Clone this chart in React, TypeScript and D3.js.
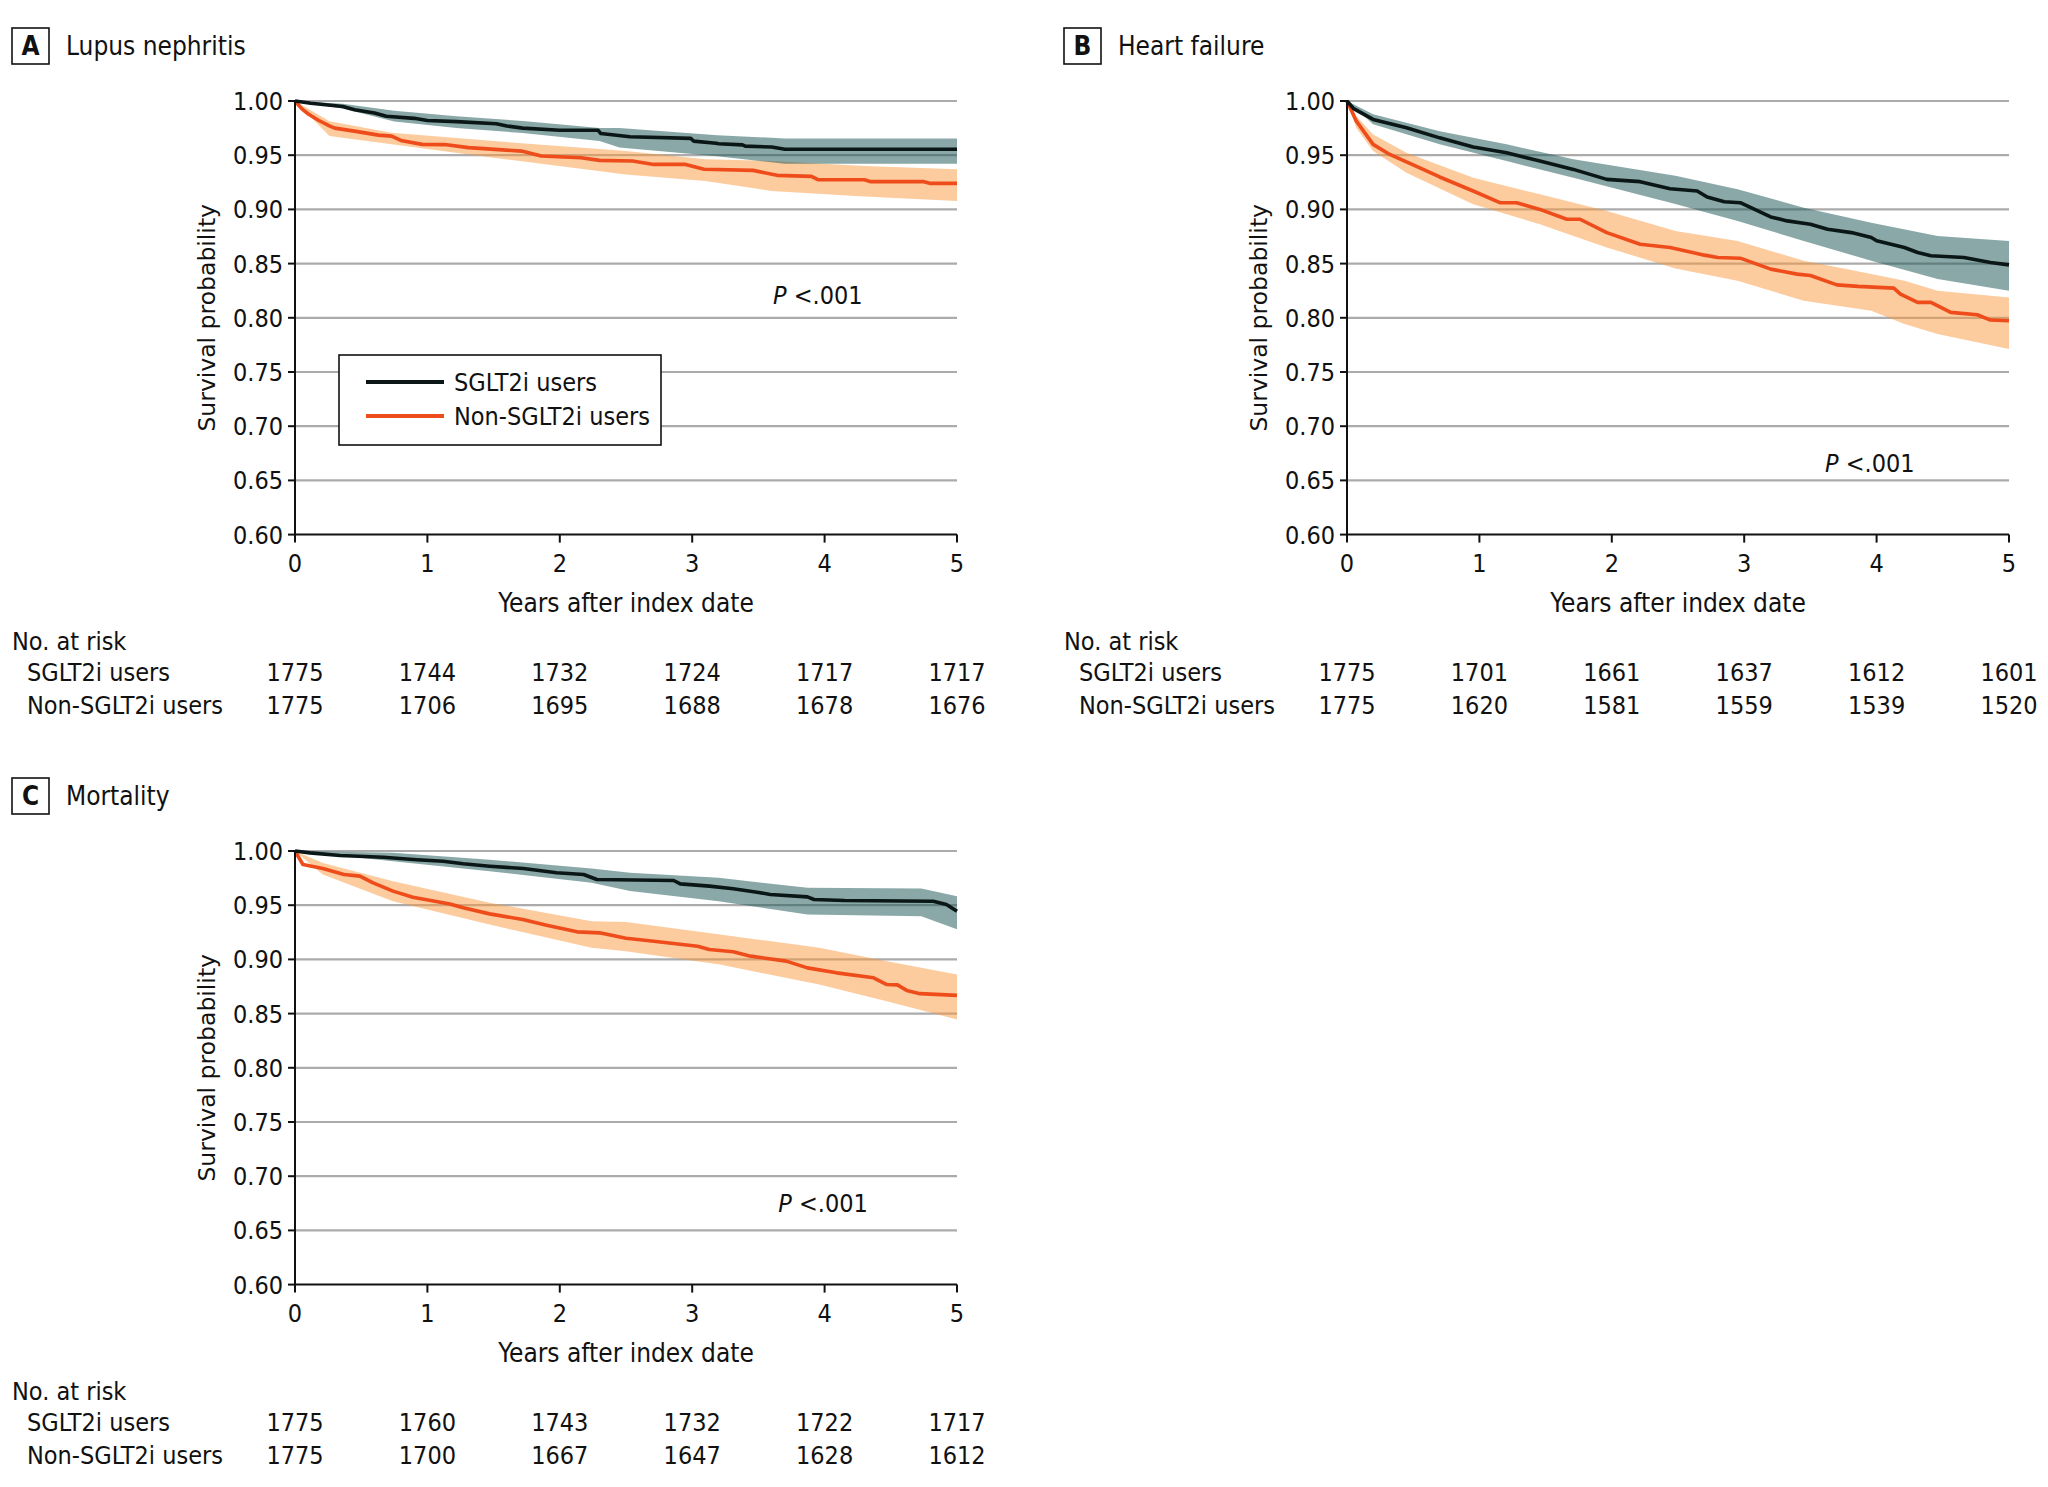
import React from "react";
import * as d3 from "d3";

type Pt = [number, number];
type Band = [number, number, number];

const yTicks = [0.6, 0.65, 0.7, 0.75, 0.8, 0.85, 0.9, 0.95, 1.0];
const xTicks = [0, 1, 2, 3, 4, 5];
const groups = ["SGLT2i users", "Non-SGLT2i users"];

// A  Lupus nephritis
const lupusSglt: Pt[] = [
  [0, 1], [0.12, 0.998], [0.36, 0.995], [0.45, 0.992], [0.6, 0.989], [0.69, 0.986], [0.9, 0.984],
  [1.0, 0.982], [1.22, 0.981], [1.52, 0.979], [1.6, 0.977], [1.72, 0.975], [2.0, 0.973], [2.29, 0.973],
  [2.31, 0.97], [2.53, 0.967], [2.99, 0.9655], [3.01, 0.963], [3.18, 0.961], [3.2, 0.9606],
  [3.38, 0.9595], [3.4, 0.9584], [3.6, 0.9575], [3.7, 0.9555], [5, 0.9555],
];
const lupusSgltBand: Band[] = [
  [0, 1, 1], [0.36, 0.993, 0.9975], [0.75, 0.981, 0.991], [1.22, 0.975, 0.986], [1.72, 0.9705, 0.9815],
  [2.3, 0.963, 0.975], [2.45, 0.957, 0.975], [3.19, 0.949, 0.9685], [3.7, 0.942, 0.9655], [5, 0.942, 0.9655],
];
const lupusNon: Pt[] = [
  [0, 1], [0.05, 0.993], [0.1, 0.988], [0.18, 0.982], [0.26, 0.977], [0.3, 0.975], [0.46, 0.972],
  [0.63, 0.9685], [0.73, 0.9676], [0.8, 0.9636], [0.96, 0.96], [1.13, 0.9598], [1.31, 0.957], [1.71, 0.9538],
  [1.86, 0.9492], [2.16, 0.9477], [2.3, 0.9452], [2.55, 0.9446], [2.71, 0.9415], [2.95, 0.9415], [3.09, 0.937],
  [3.46, 0.936], [3.64, 0.9314], [3.9, 0.9305], [3.95, 0.9274], [4.3, 0.9274], [4.35, 0.9256], [4.75, 0.9256],
  [4.8, 0.924], [5, 0.924],
];
const lupusNonBand: Band[] = [
  [0, 1, 1], [0.26, 0.9676, 0.9814], [0.73, 0.96, 0.9707], [1.5, 0.9477, 0.963], [2.5, 0.9323, 0.9538],
  [3.1, 0.9262, 0.9462], [3.6, 0.917, 0.9446], [4.3, 0.912, 0.94], [5, 0.9078, 0.937],
];
const lupusRiskSglt = [1775, 1744, 1732, 1724, 1717, 1717];
const lupusRiskNon = [1775, 1706, 1695, 1688, 1678, 1676];

// B  Heart failure
const hfSglt: Pt[] = [
  [0, 1], [0.05, 0.993], [0.197, 0.983], [0.449, 0.9753], [0.7, 0.966], [0.953, 0.9575], [1.205, 0.9523],
  [1.457, 0.9446], [1.71, 0.9369], [1.962, 0.9277], [2.214, 0.9256], [2.44, 0.9191], [2.645, 0.917],
  [2.72, 0.9115], [2.85, 0.9071], [2.97, 0.9062], [3.2, 0.893], [3.325, 0.8894], [3.5, 0.8863],
  [3.63, 0.8817], [3.81, 0.8786], [3.96, 0.874], [4.0, 0.871], [4.21, 0.8648], [4.31, 0.8602],
  [4.41, 0.8572], [4.66, 0.8556], [4.86, 0.851], [5.0, 0.8488],
];
const hfSgltBand: Band[] = [
  [0, 1, 1], [0.197, 0.9785, 0.9877], [0.7, 0.96, 0.9722], [1.205, 0.9446, 0.96], [1.71, 0.9292, 0.9462],
  [2.48, 0.905, 0.931], [2.95, 0.8894, 0.9185], [3.45, 0.8709, 0.9016], [3.96, 0.8526, 0.8878],
  [4.46, 0.8357, 0.8755], [5, 0.8249, 0.8709],
];
const hfNon: Pt[] = [
  [0, 1], [0.071, 0.9814], [0.197, 0.96], [0.323, 0.9507], [0.575, 0.9369], [0.7, 0.9299], [0.953, 0.917],
  [1.155, 0.9062], [1.28, 0.9062], [1.457, 0.9], [1.66, 0.8909], [1.76, 0.8909], [1.962, 0.8786],
  [2.214, 0.8679], [2.44, 0.8648], [2.7, 0.8578], [2.8, 0.8556], [2.97, 0.855], [3.2, 0.8449],
  [3.4, 0.8403], [3.5, 0.839], [3.7, 0.8304], [3.86, 0.829], [4.13, 0.8274], [4.18, 0.8219],
  [4.31, 0.8142], [4.41, 0.8142], [4.56, 0.805], [4.76, 0.8028], [4.86, 0.7979], [5, 0.7973],
];
const hfNonBand: Band[] = [
  [0, 1, 1], [0.071, 0.975, 0.986], [0.197, 0.9538, 0.9692], [0.449, 0.9339, 0.9523], [0.953, 0.9047, 0.9292],
  [1.457, 0.8863, 0.9139], [1.962, 0.8649, 0.8986], [2.48, 0.8455, 0.88], [2.95, 0.8342, 0.8709],
  [3.45, 0.8158, 0.8526], [3.96, 0.8065, 0.8403], [4.21, 0.7942, 0.8342], [4.46, 0.7851, 0.825],
  [5, 0.7713, 0.8188],
];
const hfRiskSglt = [1775, 1701, 1661, 1637, 1612, 1601];
const hfRiskNon = [1775, 1620, 1581, 1559, 1539, 1520];

// C  Mortality
const mortSglt: Pt[] = [
  [0, 1], [0.113, 0.9983], [0.34, 0.9958], [0.667, 0.9943], [0.919, 0.992], [1.12, 0.9906], [1.27, 0.9882],
  [1.47, 0.986], [1.725, 0.9838], [1.976, 0.98], [2.18, 0.9783], [2.28, 0.9737], [2.86, 0.9728],
  [2.91, 0.9697], [3.13, 0.9676], [3.31, 0.9651], [3.49, 0.962], [3.59, 0.9599], [3.87, 0.9577],
  [3.92, 0.9553], [4.15, 0.9544], [4.82, 0.9537], [4.92, 0.9506], [5.0, 0.9445],
];
const mortSgltBand: Band[] = [
  [0, 1, 1], [0.74, 0.9906, 0.9983], [1.47, 0.9814, 0.992], [2.24, 0.9706, 0.9838], [2.53, 0.963, 0.98],
  [3.2, 0.9537, 0.9753], [3.87, 0.9414, 0.966], [4.73, 0.9399, 0.9654], [5, 0.9277, 0.9583],
];
const mortNon: Pt[] = [
  [0, 1], [0.06, 0.9875], [0.21, 0.9838], [0.37, 0.9783], [0.49, 0.9768], [0.59, 0.9706], [0.74, 0.963],
  [0.89, 0.9574], [1.17, 0.9512], [1.27, 0.9476], [1.47, 0.942], [1.72, 0.9368], [1.9, 0.9316],
  [2.13, 0.9254], [2.3, 0.9245], [2.5, 0.9195], [2.71, 0.9168], [3.04, 0.9122], [3.13, 0.9091],
  [3.31, 0.907], [3.44, 0.903], [3.71, 0.8984], [3.87, 0.8922], [4.09, 0.8876], [4.37, 0.883],
  [4.47, 0.8768], [4.55, 0.8765], [4.62, 0.8714], [4.72, 0.8684], [5, 0.8668],
];
const mortNonBand: Band[] = [
  [0, 1, 1], [0.21, 0.9783, 0.989], [0.74, 0.9537, 0.9722], [1.47, 0.9322, 0.9522], [2.24, 0.9107, 0.9353],
  [2.5, 0.9076, 0.9346], [3.21, 0.8953, 0.923], [3.96, 0.8768, 0.9107], [4.47, 0.8614, 0.8984],
  [5, 0.8446, 0.8861],
];
const mortRiskSglt = [1775, 1760, 1743, 1732, 1722, 1717];
const mortRiskNon = [1775, 1700, 1667, 1647, 1628, 1612];

const FONT = "'Liberation Sans Narrow', 'DejaVu Sans Condensed', 'Arial Narrow', 'Liberation Sans', sans-serif";
const BLACK = "#0b1717";
const ORANGE = "#ef4c1c";
const TEAL_BAND = "#1f5858";
const ORANGE_BAND = "#f9983e";

type PanelProps = {
  letter: string;
  title: string;
  ox: number;
  oy: number;
  sglt: Pt[];
  non: Pt[];
  sgltBand: Band[];
  nonBand: Band[];
  riskSglt: number[];
  riskNon: number[];
  pAt: Pt;
  legend?: boolean;
};

const Panel: React.FC<PanelProps> = ({
  letter, title, ox, oy, sglt, non, sgltBand, nonBand, riskSglt, riskNon, pAt, legend,
}) => {
  const x = d3.scaleLinear().domain([0, 5]).range([295, 957]);
  const y = d3.scaleLinear().domain([0.6, 1]).range([534.6, 101]);
  const line = d3.line<Pt>().x((d) => x(d[0])).y((d) => y(d[1]));
  const area = d3
    .area<Band>()
    .x((d) => x(d[0]))
    .y0((d) => y(d[1]))
    .y1((d) => y(d[2]));
  const [x0, x1] = x.range();
  const yb = y(0.6);

  return (
    <g transform={`translate(${ox},${oy})`} fontFamily={FONT} fill="#111">
      <rect x={12} y={28} width={37} height={36} fill="none" stroke="#111" strokeWidth={1.6} />
      <text x={30.5} y={55} fontSize={26} fontWeight="bold" textAnchor="middle">{letter}</text>
      <text x={66} y={55} fontSize={26}>{title}</text>

      {yTicks.filter((t) => t > 0.6).map((t) => (
        <line key={t} x1={x0} x2={x1} y1={y(t)} y2={y(t)} stroke="#ababab" strokeWidth={2.2} />
      ))}

      <path d={area(nonBand) || ""} fill={ORANGE_BAND} fillOpacity={0.5} />
      <path d={area(sgltBand) || ""} fill={TEAL_BAND} fillOpacity={0.52} />
      <path d={line(non) || ""} fill="none" stroke={ORANGE} strokeWidth={3.6} strokeLinejoin="round" />
      <path d={line(sglt) || ""} fill="none" stroke={BLACK} strokeWidth={3.6} strokeLinejoin="round" />

      <line x1={x0} x2={x0} y1={y(1) - 1} y2={yb} stroke="#111" strokeWidth={2} />
      <line x1={x0} x2={x1} y1={yb} y2={yb} stroke="#111" strokeWidth={2} />
      {yTicks.map((t) => (
        <g key={t}>
          <line x1={x0 - 7} x2={x0} y1={y(t)} y2={y(t)} stroke="#111" strokeWidth={2} />
          <text x={x0 - 12} y={y(t) + 9} fontSize={25} textAnchor="end">{t.toFixed(2)}</text>
        </g>
      ))}
      {xTicks.map((t) => (
        <g key={t}>
          <line x1={x(t)} x2={x(t)} y1={yb} y2={yb + 8} stroke="#111" strokeWidth={2} />
          <text x={x(t)} y={yb + 37} fontSize={25} textAnchor="middle">{t}</text>
        </g>
      ))}
      <text x={(x0 + x1) / 2} y={612} fontSize={26} textAnchor="middle">Years after index date</text>
      <text
        transform={`translate(215,${(y(1) + yb) / 2}) rotate(-90)`}
        fontSize={23.5}
        fontFamily="'DejaVu Sans', sans-serif"
        textAnchor="middle"
      >
        Survival probability
      </text>

      <text x={x(pAt[0])} y={y(pAt[1])} fontSize={25}>
        <tspan fontStyle="italic">P</tspan>
        <tspan> {"<"}.001</tspan>
      </text>

      {legend && (
        <g>
          <rect x={339} y={355} width={322} height={90} fill="white" stroke="#111" strokeWidth={1.6} />
          <line x1={366} x2={444} y1={382} y2={382} stroke={BLACK} strokeWidth={4} />
          <line x1={366} x2={444} y1={416} y2={416} stroke={ORANGE} strokeWidth={4} />
          <text x={454} y={391} fontSize={25}>{groups[0]}</text>
          <text x={454} y={425} fontSize={25}>{groups[1]}</text>
        </g>
      )}

      <text x={12} y={650} fontSize={25}>No. at risk</text>
      <text x={27} y={681} fontSize={25}>{groups[0]}</text>
      <text x={27} y={714} fontSize={25}>{groups[1]}</text>
      {xTicks.map((t, i) => (
        <g key={t}>
          <text x={x(t)} y={681} fontSize={25} textAnchor="middle">{riskSglt[i]}</text>
          <text x={x(t)} y={714} fontSize={25} textAnchor="middle">{riskNon[i]}</text>
        </g>
      ))}
    </g>
  );
};

export default function App() {
  return (
    <svg
      width={2048}
      height={1487}
      style={{ position: "absolute", left: 0, top: 0, background: "white" }}
    >
      <rect width={2048} height={1487} fill="white" />
      <Panel
        letter="A" title="Lupus nephritis" ox={0} oy={0}
        sglt={lupusSglt} non={lupusNon} sgltBand={lupusSgltBand} nonBand={lupusNonBand}
        riskSglt={lupusRiskSglt} riskNon={lupusRiskNon} pAt={[3.61, 0.8127]} legend
      />
      <Panel
        letter="B" title="Heart failure" ox={1052} oy={0}
        sglt={hfSglt} non={hfNon} sgltBand={hfSgltBand} nonBand={hfNonBand}
        riskSglt={hfRiskSglt} riskNon={hfRiskNon} pAt={[3.61, 0.6577]}
      />
      <Panel
        letter="C" title="Mortality" ox={0} oy={750}
        sglt={mortSglt} non={mortNon} sgltBand={mortSgltBand} nonBand={mortNonBand}
        riskSglt={mortRiskSglt} riskNon={mortRiskNon} pAt={[3.65, 0.667]}
      />
    </svg>
  );
}
